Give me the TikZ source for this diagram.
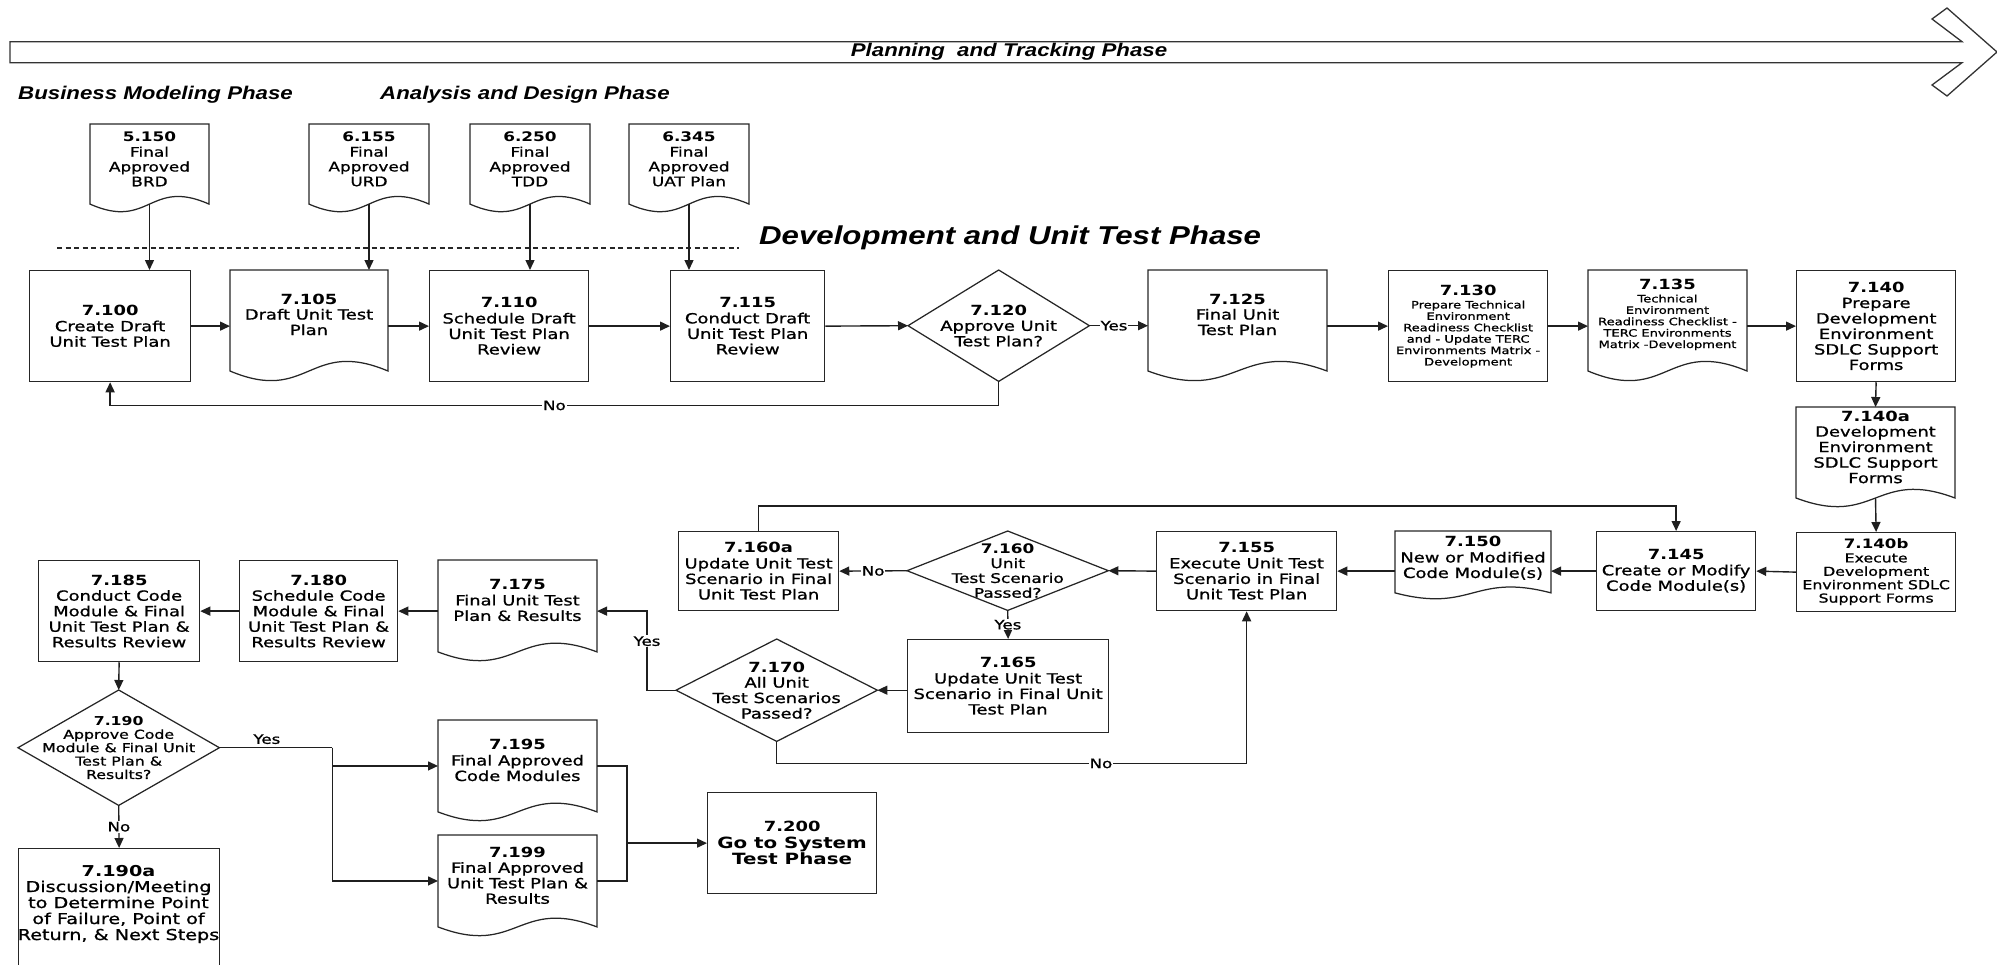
\documentclass[tikz,border=0pt]{standalone}
\usepackage{fontspec}
\setmainfont{DejaVu Sans}[FakeStretch=1.28, UprightFeatures={FakeBold=1.0}]
\newfontfamily\phasefont{Liberation Sans}[FakeStretch=1.21]
\usetikzlibrary{arrows.meta,calc}

% document symbol: straight sides, wavy bottom edge; #6 text style, #7 text
\newcommand\flowdoc[7]{%
  \node[docframe, minimum width=#4pt, minimum height={0.91*#5pt}, anchor=north west] (#1) at (#2,#3) {};
  \draw[outline] (#1.north west) -- (#1.south west)
    .. controls ($(#1.south)+(0,0.3*#5)$) and ($(#1.south)+(0,-0.3*#5)$) .. (#1.south east)
    -- (#1.north east) -- cycle;
  \node[txt,#6] (#1t) at ($(#1.north)+(0,0.4*#5)$) {#7};
}
% decision symbol drawn on the node's side midpoints
\newcommand\flowdia[7]{%
  \node[txt,#6, minimum width=#4pt, minimum height=#5pt, anchor=north west] (#1) at (#2,#3) {#7};
  \draw[outline] (#1.north) -- (#1.east) -- (#1.south) -- (#1.west) -- cycle;
}

\begin{document}
\begin{tikzpicture}[x=1pt,y=-1pt,
  outline/.style={draw=black!85, line width=1.25pt},
  conn/.style={draw=black!88, line width=1.4pt, -{Triangle[length=10pt,width=9pt]}},
  plain/.style={draw=black!88, line width=1.4pt},
  docframe/.style={rectangle, inner sep=0pt, outer sep=0pt},
  txt/.style={align=center, inner sep=0pt},
  proc/.style={outline, rectangle, inner sep=0pt, align=center, anchor=north west},
  f10/.style={font=\fontsize{10.2}{11.4}\selectfont},
  f12/.style={font=\fontsize{12.3}{13.4}\selectfont},
  f13/.style={font=\fontsize{13.2}{14.8}\selectfont},
  f14/.style={font=\fontsize{14}{15.5}\selectfont},
  f15/.style={font=\fontsize{15}{16}\selectfont},
  lbl/.style={fill=white, inner sep=1pt, font=\fontsize{13}{13}\selectfont},
  phase/.style={inner sep=0pt, font=\phasefont\bfseries\itshape\fontsize{18.4}{18.4}\selectfont},
]
\useasboundingbox (0,0) rectangle (1997,964);

% phase banner across the top
\draw[draw=black!80, line width=1.3pt] (10,41.7) -- (1962,41.7) -- (1932,19) -- (1947,8) -- (1997,52)
  -- (1947,96) -- (1932,85) -- (1962,62.7) -- (10,62.7) -- cycle;
\node[phase] (tplan) at (1009,52) {Planning\ \ and Tracking Phase};

\node[phase, anchor=west] (hbm) at (18,95) {Business Modeling Phase};
\node[phase, anchor=west] (had) at (380,95) {Analysis and Design Phase};
\node[phase, anchor=west, font=\phasefont\bfseries\itshape\fontsize{25.8}{25.8}\selectfont] (hdev) at (759,238) {Development and Unit Test Phase};
\draw[black!85, line width=1.2pt, dash pattern=on 5pt off 3.5pt] (57,248) -- (739,248);

% inputs from earlier phases
\flowdoc{d5150}{90}{124}{119}{88}{f13}{\textbf{5.150}\\Final\\Approved\\BRD}
\flowdoc{d6155}{309}{124}{120}{88}{f13}{\textbf{6.155}\\Final\\Approved\\URD}
\flowdoc{d6250}{470}{124}{120}{88}{f13}{\textbf{6.250}\\Final\\Approved\\TDD}
\flowdoc{d6345}{629}{124}{120}{88}{f13}{\textbf{6.345}\\Final\\Approved\\UAT Plan}

% first row
\node[proc, f14, minimum width=161pt, minimum height=111pt] (p7100) at (29,270) {\textbf{7.100}\\Create Draft\\Unit Test Plan};
\flowdoc{d7105}{230}{270}{158}{111}{f14}{\textbf{7.105}\\Draft Unit Test\\Plan}
\node[proc, f14, minimum width=159pt, minimum height=111pt] (p7110) at (429,270) {\textbf{7.110}\\Schedule Draft\\Unit Test Plan\\Review};
\node[proc, f14, minimum width=154pt, minimum height=111pt] (p7115) at (670,270) {\textbf{7.115}\\Conduct Draft\\Unit Test Plan\\Review};
\flowdia{q7120}{908}{270}{181}{111}{f14}{\textbf{7.120}\\Approve Unit\\Test Plan?}
\flowdoc{d7125}{1148}{270}{179}{111}{f14}{\textbf{7.125}\\Final Unit\\Test Plan}
\node[proc, f10, minimum width=159pt, minimum height=111pt] (p7130) at (1388,270) {{\fontsize{14}{15}\selectfont\bfseries 7.130}\\[2pt]Prepare Technical\\Environment\\Readiness Checklist\\and - Update TERC\\Environments Matrix -\\Development};
\flowdoc{d7135}{1588}{270}{159}{111}{f10}{{\fontsize{14}{15}\selectfont\bfseries 7.135}\\[2pt]Technical\\Environment\\Readiness Checklist -\\TERC Environments\\Matrix -Development}
\node[proc, f14, minimum width=159pt, minimum height=111pt] (p7140) at (1796,270) {\textbf{7.140}\\Prepare\\Development\\Environment\\SDLC Support\\Forms};
\flowdoc{d7140a}{1796}{407}{159}{100}{f14}{\textbf{7.140a}\\Development\\Environment\\SDLC Support\\Forms}
\node[proc, f12, minimum width=159pt, minimum height=79pt] (p7140b) at (1796,532) {{\fontsize{13}{14}\selectfont\bfseries 7.140b}\\Execute\\Development\\Environment SDLC\\Support Forms};

% second row
\node[proc, f14, minimum width=159pt, minimum height=79pt] (p7145) at (1596,531) {\textbf{7.145}\\Create or Modify\\Code Module(s)};
\flowdoc{d7150}{1395}{531}{156}{68}{f14}{\textbf{7.150}\\New or Modified\\Code Module(s)}
\node[proc, f14, minimum width=180pt, minimum height=79pt] (p7155) at (1156,531) {\textbf{7.155}\\Execute Unit Test\\Scenario in Final\\Unit Test Plan};
\flowdia{q7160}{907}{531}{201}{79}{f13}{\textbf{7.160}\\Unit\\Test Scenario\\Passed?}
\node[proc, f14, minimum width=160pt, minimum height=79pt] (p7160a) at (678,531) {\textbf{7.160a}\\Update Unit Test\\Scenario in Final\\Unit Test Plan};
\node[proc, f14, minimum width=201pt, minimum height=93pt] (p7165) at (907,639) {\textbf{7.165}\\Update Unit Test\\Scenario in Final Unit\\Test Plan};
\flowdia{q7170}{676}{639}{201}{102}{f14}{\textbf{7.170}\\All Unit\\Test Scenarios\\Passed?}

% third row and wrap-up
\flowdoc{d7175}{438}{560}{159}{101}{f14}{\textbf{7.175}\\Final Unit Test\\Plan \& Results}
\node[proc, f14, minimum width=158pt, minimum height=101pt] (p7180) at (239,560) {\textbf{7.180}\\Schedule Code\\Module \& Final\\Unit Test Plan \&\\Results Review};
\node[proc, f14, minimum width=161pt, minimum height=101pt] (p7185) at (38,560) {\textbf{7.185}\\Conduct Code\\Module \& Final\\Unit Test Plan \&\\Results Review};
\flowdia{q7190}{18}{690}{201}{115}{f12}{\textbf{7.190}\\Approve Code\\Module \& Final Unit\\Test Plan \&\\Results?}
\node[proc, minimum width=201pt, minimum height=130pt] (p7190a) at (18,848) {};
\node[txt, f15] (p7190at) at (118.5,904) {\textbf{7.190a}\\Discussion/Meeting\\to Determine Point\\of Failure, Point of\\Return, \& Next Steps};
\flowdoc{d7195}{438}{720}{159}{101}{f14}{\textbf{7.195}\\Final Approved\\Code Modules}
\flowdoc{d7199}{438}{835}{159}{101}{f14}{\textbf{7.199}\\Final Approved\\Unit Test Plan \&\\Results}
\node[proc, font=\fontsize{15.5}{16.6}\selectfont\bfseries, minimum width=169pt, minimum height=101pt] (p7200) at (707,792) {{\fontsize{14}{15}\selectfont 7.200}\\Go to System\\Test Phase};

% connectors
\draw[conn] (d5150.south) -- (d5150.south |- p7100.north);
\draw[conn] (d6155.south) -- (d6155.south |- d7105.north);
\draw[conn] (d6250.south) -- (d6250.south |- p7110.north);
\draw[conn] (d6345.south) -- (d6345.south |- p7115.north);

\draw[conn] (p7100.east) -- (p7100.east -| d7105.west);
\draw[conn] (p7110.west -| d7105.east) -- (p7110.west);
\draw[conn] (p7110.east) -- (p7115.west);
\draw[conn] (p7115.east) -- (q7120.west);
\draw[conn] (q7120.east) -- node[lbl, pos=0.42]{Yes} (q7120.east -| d7125.west);
\coordinate (no1) at ($(q7120.south)+(0,24)$);
\draw[conn] (q7120.south) -- (no1) -- node[lbl]{No} (no1 -| p7100.south) -- (p7100.south);
\draw[conn] (p7130.west -| d7125.east) -- (p7130.west);
\draw[conn] (p7130.east) -- (p7130.east -| d7135.west);
\draw[conn] (p7140.west -| d7135.east) -- (p7140.west);
\draw[conn] (p7140.south) -- (d7140a.north);
\draw[conn] (d7140a.south) -- (p7140b.north);

\draw[conn] (p7140b.west) -- (p7145.east);
\draw[conn] (p7145.west) -- (p7145.west -| d7150.east);
\draw[conn] (p7155.east -| d7150.west) -- (p7155.east);
\draw[conn] (p7155.west) -- (q7160.east);
\draw[conn] (q7160.west) -- node[lbl]{No} (p7160a.east);
\coordinate (up1) at ($(p7160a.north)+(0,-25)$);
\draw[conn] (p7160a.north) -- (up1) -| (p7145.north);
\draw[conn] (q7160.south) -- node[lbl, inner sep=0.5pt]{Yes} (p7165.north);
\draw[conn] (q7170.east -| p7165.west) -- (q7170.east);
\coordinate (yes2) at ($(q7170.west)+(-29,0)$);
\draw[conn] (q7170.west) -- (yes2) -- node[lbl, pos=0.62]{Yes} (yes2 |- p7180.east) -- (p7180.east -| d7175.east);
\coordinate (no2) at ($(q7170.south)+(0,22)$);
\draw[conn] (q7170.south) -- (no2) -- node[lbl, pos=0.69]{No} (no2 -| p7155.south) -- (p7155.south);

\draw[conn] (p7180.east -| d7175.west) -- (p7180.east);
\draw[conn] (p7180.west) -- (p7185.east);
\draw[conn] (p7185.south) -- (q7190.north);
\draw[conn] (q7190.south) -- node[lbl]{No} (p7190a.north);
\coordinate (ysplit) at ($(q7190.east)+(113,0)$);
\draw[plain] (q7190.east) -- node[above=3pt, pos=0.42, inner sep=0pt, font=\fontsize{13}{13}\selectfont]{Yes} (ysplit);
\draw[conn] (ysplit) |- (d7195.west);
\draw[conn] (ysplit) |- (d7199.west);
\coordinate (mjoin) at ($(d7195.east)+(30,0)$);
\draw[plain] (d7195.east) -- (mjoin) -- (mjoin |- d7199.east) -- (d7199.east);
\draw[conn] (mjoin |- p7200.west) -- (p7200.west);
\end{tikzpicture}
\end{document}
